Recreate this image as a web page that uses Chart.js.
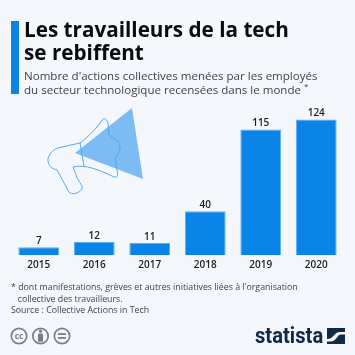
<!DOCTYPE html>
<html lang="fr">
<head>
<meta charset="utf-8">
<title>Les travailleurs de la tech se rebiffent</title>
<script src="https://cdn.jsdelivr.net/npm/chart.js@4"></script>
<style>
  html, body { margin: 0; padding: 0; }
  body { width: 355px; height: 355px; background: #f4f7fc; overflow: hidden; position: relative; font-family: "Open Sans", sans-serif; }
  #chartWrap { position: absolute; left: 0; top: 0; width: 355px; height: 355px; }
  .abs { position: absolute; white-space: nowrap; }
  #accent { left: 11px; top: 21px; width: 8px; height: 73px; background: #0a84e6; }
  #title { left: 24px; top: 18px; font-size: 20.7px; line-height: 23px; font-weight: 700; color: #0b0b0b; }
  #subtitle { left: 24px; top: 69px; font-size: 11.55px; line-height: 14px; color: #3f4448; }
  #notes { left: 11px; top: 282px; font-size: 8.8px; line-height: 11.7px; color: #3f4448; }
  #notes .ind { padding-left: 6.7px; }
  #brand { left: 255px; top: 323px; font-size: 21.6px; line-height: 26px; font-weight: 700; color: #0f2a47; font-family: "Roboto", sans-serif; transform: scaleX(.935); transform-origin: left top; }
  svg { position: absolute; }
</style>
</head>
<body>
<div id="chartWrap"><canvas id="barChart" width="355" height="355"></canvas></div>

<div id="accent" class="abs"></div>
<div id="title" class="abs">Les travailleurs de la tech<br>se rebiffent</div>
<div id="subtitle" class="abs">Nombre d'actions collectives menées par les employés<br>du secteur technologique recensées dans le monde <sup style="font-size:8px;line-height:0">*</sup></div>
<div id="notes" class="abs">* dont manifestations, grèves et autres initiatives liées à l'organisation<br><span class="ind">collective des travailleurs.</span><br>Source : Collective Actions in Tech</div>

<!-- megaphone -->
<svg style="left:0;top:0" width="355" height="355" viewBox="0 0 355 355">
  <polygon points="75,153 132,108 143,179" fill="#7cbcf3"/>
  <path d="M80,143 L62,147 C52,148 47,157 48,161 C49,168 54,169 57,170 L69,192 C72,195 78,194 82,189 C83,186 80,183 77,178 C76,174 75,172 73,167 C85,164 100,170 114,177 C118,178 118,174 117,170 L115,158 C121,152 122,144 116,140 L109,135 L108,123 C106,118 104,118 102,120 C98,127 88,137 80,143 Z M80,143 L84,166" fill="none" stroke="#52a8ee" stroke-width="1"/>
</svg>

<!-- licence icons -->
<svg style="left:10px;top:326px" width="62" height="20" viewBox="0 0 62 20">
  <g fill="none" stroke="#7b7f84" stroke-width="1.7">
    <circle cx="9" cy="10" r="7.7"/><circle cx="30.5" cy="10" r="7.7"/><circle cx="52" cy="10" r="7.7"/>
  </g>
  <g fill="#7b7f84">
    <text x="9" y="12.8" font-size="8.5" font-weight="700" font-family="Open Sans" text-anchor="middle">cc</text>
    <circle cx="30.5" cy="5.2" r="1.6"/><rect x="28" y="7.4" width="5" height="8.4" rx="1"/>
    <rect x="48" y="7.2" width="8" height="1.8"/><rect x="48" y="11" width="8" height="1.8"/>
  </g>
</svg>

<div id="brand" class="abs">statista</div>
<svg style="left:327px;top:328px" width="18" height="16" viewBox="0 0 18 16">
  <rect width="18" height="16" fill="#0f2a47"/>
  <path d="M0,11 C7,11 7,4 13,4 L18,4 L18,6.5 L14,6.5 C10,6.5 10,13.5 3,13.5 L0,13.5 Z" fill="#f4f7fc"/>
</svg>

<script>
// Nombre d'actions collectives par année
const years = ['2015', '2016', '2017', '2018', '2019', '2020'];
const actions = [7, 12, 11, 40, 115, 124];

/* value labels above the bars */
const barValues = {
  id: 'barValues',
  afterDatasetsDraw(chart) {
    const ctx = chart.ctx;
    const bars = chart.getDatasetMeta(0).data;
    ctx.save();
    ctx.font = '600 10px "Open Sans"';
    ctx.fillStyle = '#1c1c1c';
    ctx.textAlign = 'center';
    ctx.textBaseline = 'bottom';
    bars.forEach((bar, i) => {
      ctx.fillText(actions[i], bar.x, bar.y - 1);
    });
    ctx.restore();
  }
};

new Chart(document.getElementById('barChart'), {
  type: 'bar',
  data: {
    labels: years,
    datasets: [{
      data: actions,
      backgroundColor: '#0a84e6',
      borderColor: '#5aaeef',
      borderWidth: 1,
      categoryPercentage: 0.735,
      barPercentage: 1
    }]
  },
  options: {
    responsive: false,
    animation: false,
    layout: { padding: { left: 11, right: 11, top: 113, bottom: 80 } },
    plugins: { legend: { display: false }, tooltip: { enabled: false } },
    scales: {
      y: { display: false, min: 0, max: 130 },
      x: {
        grid: { display: false, drawTicks: false },
        border: { display: false },
        ticks: { color: '#1c1c1c', font: { family: 'Open Sans', size: 10, weight: '600' }, padding: 4, maxRotation: 0 }
      }
    }
  },
  plugins: [barValues]
});
</script>
</body>
</html>
